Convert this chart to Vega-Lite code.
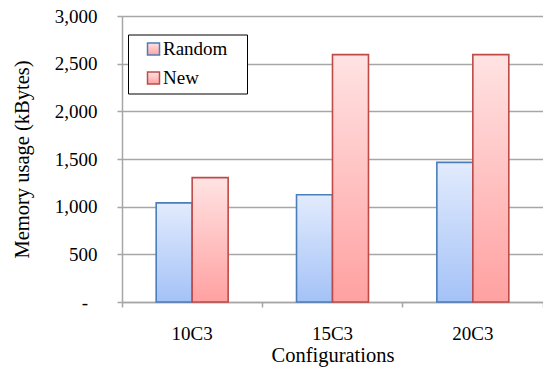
{
  "$schema": "https://vega.github.io/schema/vega-lite/v6.json",
  "width": 421,
  "height": 286,
  "autosize": {"type": "none"},
  "padding": {"left": 122, "top": 16, "right": 0, "bottom": 67},
  "background": "white",
  "config": {
    "font": "Times New Roman, Liberation Serif, serif",
    "axis": {"labelFont": "Times New Roman, Liberation Serif, serif", "titleFont": "Times New Roman, Liberation Serif, serif"},
    "legend": {"labelFont": "Times New Roman, Liberation Serif, serif"}
  },
  "data": {
    "values": [
      {"config": "10C3", "series": "Random", "value": 1040},
      {"config": "10C3", "series": "New", "value": 1305},
      {"config": "15C3", "series": "Random", "value": 1125},
      {"config": "15C3", "series": "New", "value": 2595},
      {"config": "20C3", "series": "Random", "value": 1465},
      {"config": "20C3", "series": "New", "value": 2595}
    ]
  },
  "mark": {"type": "bar", "strokeWidth": 1.6},
  "encoding": {
    "x": {
      "field": "config",
      "type": "nominal",
      "sort": ["10C3", "15C3", "20C3"],
      "title": "Configurations",
      "scale": {"paddingInner": 0, "paddingOuter": 0},
      "axis": {
        "labelAngle": 0,
        "bandPosition": 1,
        "tickExtra": true,
        "grid": false,
        "domainColor": "#a6a6a6",
        "domainWidth": 1.5,
        "tickColor": "#a6a6a6",
        "tickWidth": 1.5,
        "tickSize": 5,
        "labelPadding": 17,
        "labelFontSize": 19,
        "labelColor": "black",
        "titleFontSize": 20.5,
        "titleFontWeight": "normal",
        "titleColor": "black",
        "titlePadding": 2
      }
    },
    "xOffset": {
      "field": "series",
      "type": "nominal",
      "sort": ["Random", "New"],
      "scale": {"paddingInner": 0, "paddingOuter": 0.95}
    },
    "y": {
      "field": "value",
      "type": "quantitative",
      "title": "Memory usage (kBytes)",
      "scale": {"domain": [0, 3000], "nice": false},
      "axis": {
        "values": [0, 500, 1000, 1500, 2000, 2500, 3000],
        "labelExpr": "datum.value === 0 ? '-\u00a0\u00a0\u200b' : format(datum.value, ',')",
        "grid": true,
        "gridColor": "#a6a6a6",
        "gridWidth": 1.5,
        "domainColor": "#a6a6a6",
        "domainWidth": 1.5,
        "tickColor": "#a6a6a6",
        "tickWidth": 1.5,
        "tickSize": 5,
        "labelPadding": 20,
        "labelFontSize": 19,
        "labelColor": "black",
        "titleFontSize": 20.5,
        "titleFontWeight": "normal",
        "titleColor": "black",
        "titlePadding": 22
      }
    },
    "stroke": {
      "field": "series",
      "type": "nominal",
      "scale": {"domain": ["Random", "New"], "range": ["#4a7ebb", "#be4b48"]},
      "legend": {
        "title": null,
        "orient": "none",
        "legendX": 6,
        "legendY": 18.5,
        "padding": 5,
        "rowPadding": 9,
        "clipHeight": 19,
        "symbolType": "square",
        "symbolSize": 144,
        "symbolStrokeWidth": 1.5,
        "symbolOffset": 11,
        "labelOffset": 0,
        "labelFontSize": 19,
        "labelColor": "black",
        "labelExpr": "datum.label + '\u00a0\u00a0\u00a0\u200b'",
        "strokeColor": "black",
        "fillColor": "white",
        "encode": {
          "legend": {"update": {"strokeWidth": {"value": 1.5}}},
          "symbols": {
            "update": {
              "fill": {"signal": "datum.value === 'Random' ? '#c3d7f8' : '#f9bdbd'"},
              "fillOpacity": {"value": 1}
            }
          }
        }
      }
    },
    "fill": {
      "condition": {
        "test": "datum.series === 'Random'",
        "value": {
          "gradient": "linear",
          "x1": 0, "y1": 0, "x2": 0, "y2": 1,
          "stops": [
            {"offset": 0, "color": "#e2ebfd"},
            {"offset": 1, "color": "#a4c2f7"}
          ]
        }
      },
      "value": {
        "gradient": "linear",
        "x1": 0, "y1": 0, "x2": 0, "y2": 1,
        "stops": [
          {"offset": 0, "color": "#ffe3e3"},
          {"offset": 1, "color": "#ffa1a1"}
        ]
      }
    }
  }
}
